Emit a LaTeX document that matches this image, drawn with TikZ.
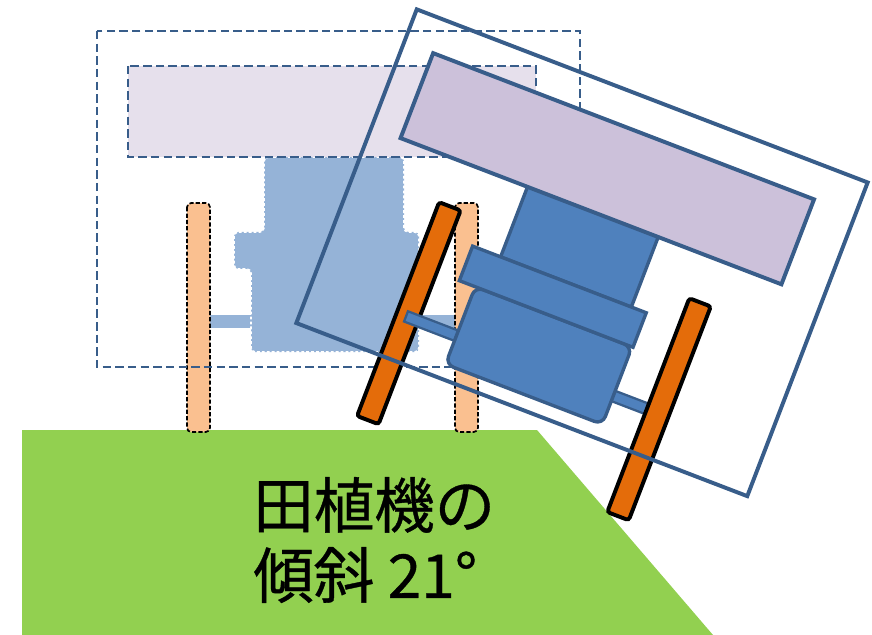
\documentclass[tikz,border=0pt]{standalone}
\usepackage{fontspec}
\newfontfamily\jpfont[FakeBold=0.6]{Noto Sans CJK JP}
\definecolor{frameblue}{HTML}{385D8A}
\definecolor{bodyblue}{HTML}{4F81BD}
\definecolor{bodylight}{HTML}{95B3D7}
\definecolor{lavender}{HTML}{CCC1DA}
\definecolor{lavlight}{HTML}{E6E0EC}
\definecolor{wheelorange}{HTML}{E46C0A}
\definecolor{wheellight}{HTML}{FAC090}
\definecolor{paddy}{HTML}{92D050}

\begin{document}
\begin{tikzpicture}[x=0.025cm, y=-0.025cm,
  ghostframe/.style={draw=frameblue, line width=1.7pt, dash pattern=on 6pt off 3pt},
  ghostbody/.style={fill=bodylight, draw=white, line width=1.2pt, dash pattern=on 2pt off 1.5pt},
  ghostwheel/.style={fill=wheellight, draw=black, line width=1.2pt, dash pattern=on 3pt off 1.5pt, rounded corners=3pt},
  frame/.style={draw=frameblue, line width=2.8pt},
  body/.style={fill=bodyblue, draw=frameblue, line width=2.4pt},
  wheel/.style={fill=wheelorange, draw=black, line width=2.8pt, rounded corners=2pt}]

% Page (units: x to the right, y downwards)
\useasboundingbox (0,0) rectangle (872,635);

% Field
\fill[paddy] (22,430) -- (537,430) -- (713,635) -- (22,635) -- cycle;

% Upright machine, faded
\fill[bodylight] (197,315) rectangle (252,328);
\fill[bodylight] (418,315) rectangle (462,328);
\draw[ghostbody, rounded corners=3pt] (264,157) -- (404,157) -- (404,232) -- (419,232)
  -- (419,352) -- (251,352) -- (251,269) -- (234,269) -- (234,232) -- (264,232) -- cycle;
\draw[ghostframe, fill=lavlight] (128,66) rectangle (536,157);
\draw[ghostwheel] (187,203) rectangle (210,432);
\draw[ghostwheel] (455,203) rectangle (478,432);
\draw[ghostframe] (97,31) rectangle (580,367);

% Same machine tilted by 21 degrees
\begin{scope}[shift={(582,252.75)}, rotate=-21, shift={(-338.5,-199)}]
  \draw[wheel] (187,203) rectangle (210,432);
  \draw[body] (264,150) rectangle (404,232);
  \draw[body, line width=1.6pt] (197,316) rectangle (251,327);
  \draw[body, line width=1.6pt] (419,316) rectangle (462,327);
  \draw[body, rounded corners=6pt] (251,269) rectangle (419,352);
  \draw[body] (234,232) rectangle (420,269);
  \draw[frame, fill=lavender] (128,66) rectangle (536,157);
  \draw[wheel] (455,203) rectangle (478,432);
  \draw[frame] (97,31) rectangle (580,367);
\end{scope}

% Caption
\node[font=\jpfont\fontsize{43pt}{49.8pt}\selectfont, align=left, anchor=west,
  inner sep=0pt] (tilt) at (253,540) {田植機の\\傾斜 21°};

\end{tikzpicture}
\end{document}
